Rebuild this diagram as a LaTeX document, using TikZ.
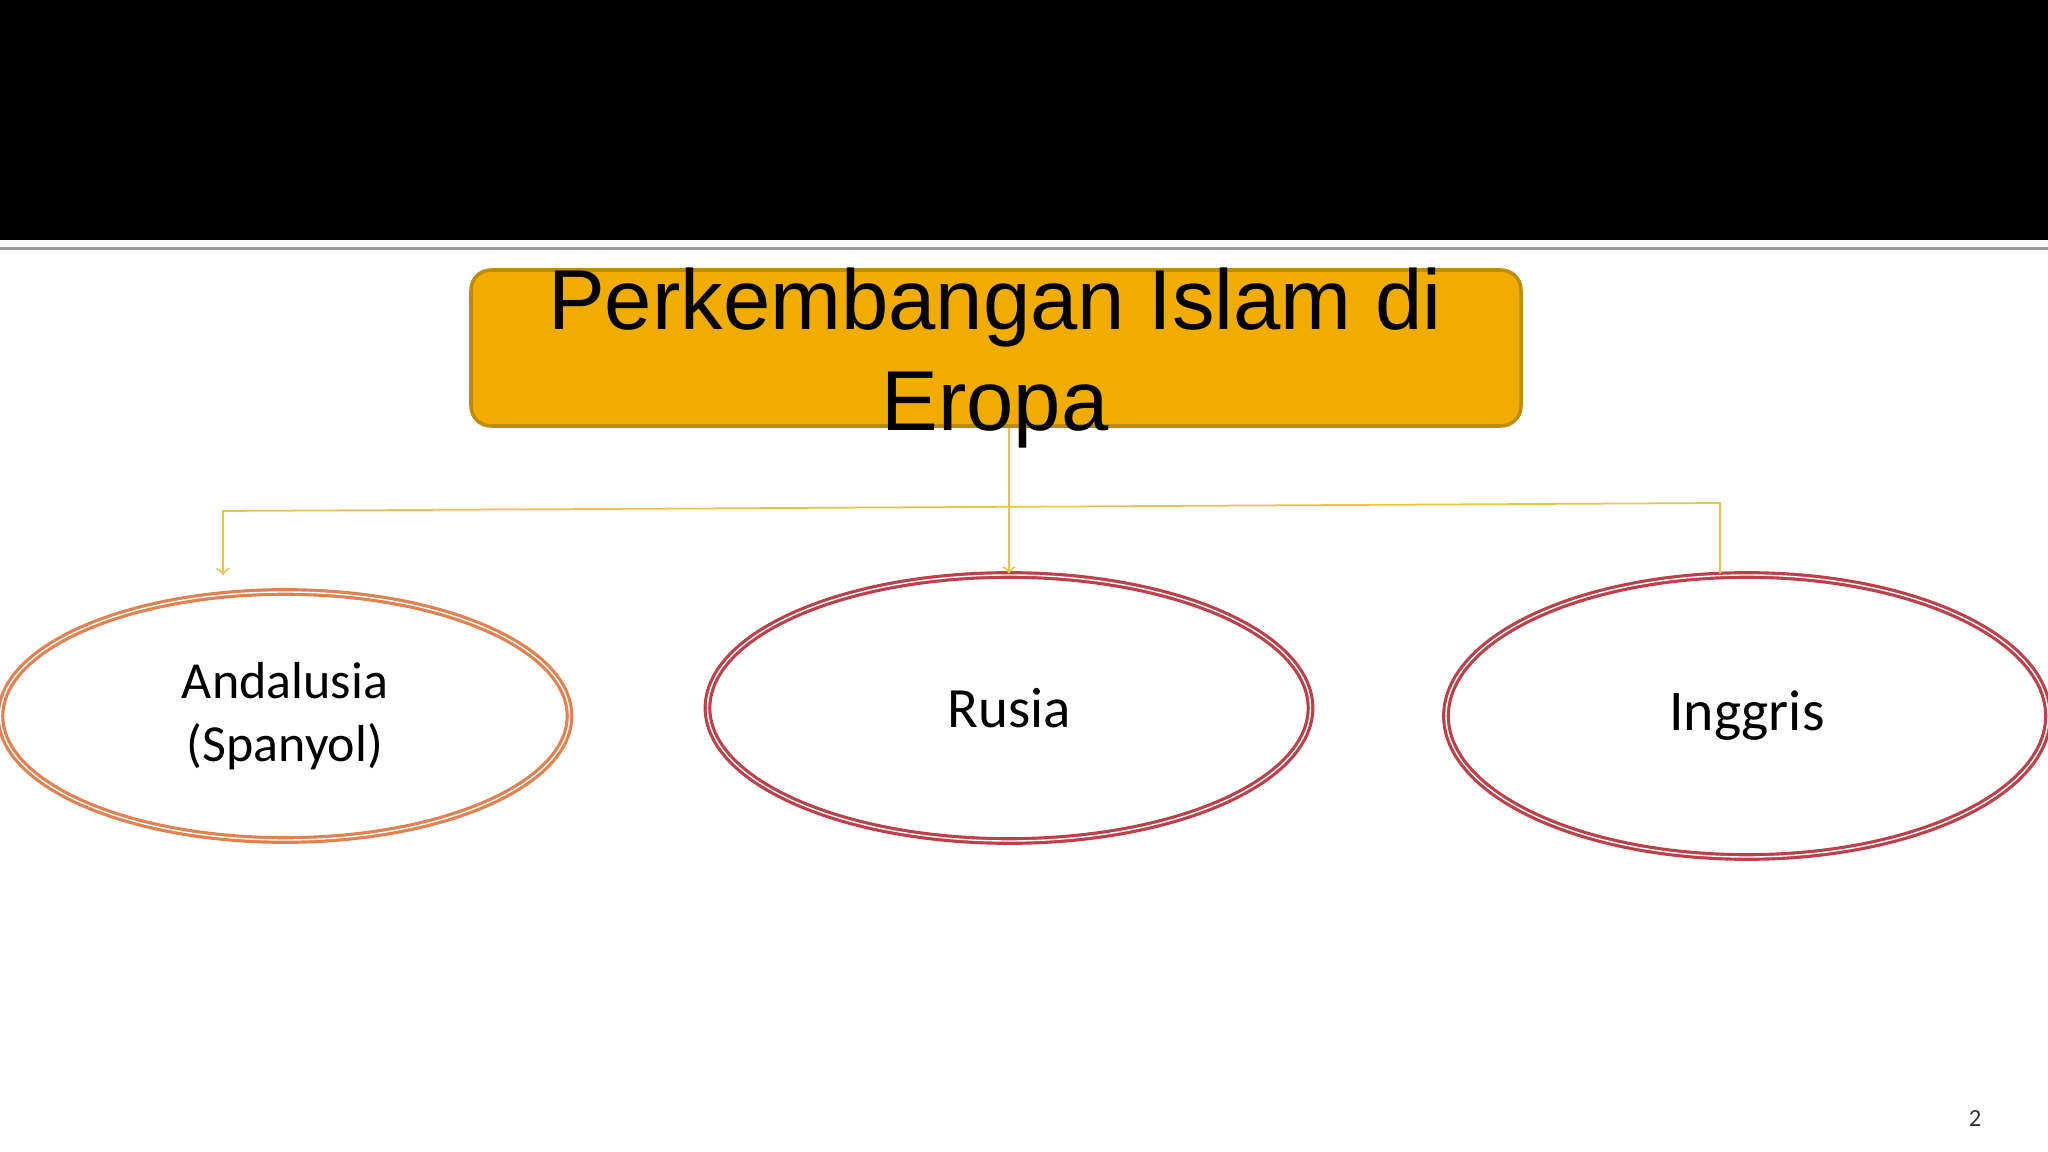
\documentclass[tikz,border=0pt]{standalone}
\usepackage{fontspec}
\setmainfont{Carlito}
\newfontfamily\titlefont{Liberation Sans}
\usetikzlibrary{shapes.geometric, arrows, calc, positioning}
\definecolor{boxgold}{RGB}{240,173,0}
\definecolor{boxedge}{RGB}{190,140,10}
\definecolor{linkgold}{RGB}{242,192,70}
\definecolor{ringorange}{RGB}{228,128,78}
\definecolor{ringred}{RGB}{192,62,72}
\tikzstyle{titlebox} = [rectangle, rounded corners=0.2cm, minimum width=10.5cm,
	minimum height=1.56cm, draw=boxedge, line width=1pt, fill=boxgold]
\tikzstyle{titleline} = [anchor=base, inner sep=0pt, font=\titlefont\fontsize{24.2}{29}\selectfont]
\tikzstyle{ring} = [ellipse, align=center, inner sep=0pt, double=white,
	double distance=0.4pt, line width=0.9pt]
\tikzstyle{link} = [draw=linkgold, line width=0.5pt]
\tikzstyle{arrow} = [->, >=to]

\begin{document}
\begin{tikzpicture}
	% set up slide
	\useasboundingbox (0,0) rectangle (20.48,-11.52);
	\fill [black] (0,0) rectangle (20.48,-2.40);
	\fill [black!40] (0,-2.47) rectangle (20.48,-2.50);

	% set up title
	\node (title) [titlebox] at (9.96,-3.48) {};
	\node (titletop) [titleline] at (9.95,-3.30) {Perkembangan Islam di};
	\node (titlebot) [titleline] at (9.95,-4.31) {Eropa};

	% set up nodes
	\node (andalusia) [ring, draw=ringorange, minimum width=5.69cm, minimum height=2.48cm,
		font=\fontsize{14.8}{17.8}\selectfont] at (2.85,-7.16) {Andalusia\\(Spanyol)};
	\node (rusia) [ring, draw=ringred, minimum width=6.03cm, minimum height=2.66cm,
		font=\fontsize{16.2}{19}\selectfont] at (10.09,-7.08) {Rusia};
	\node (inggris) [ring, draw=ringred, minimum width=6.02cm, minimum height=2.82cm,
		font=\fontsize{16.4}{19}\selectfont] at (17.47,-7.16) {Inggris};

	% set up connectors
	\coordinate (hl) at (2.23,-5.11);
	\coordinate (hr) at (17.20,-5.03);
	\coordinate (aend) at (2.23,-5.75);
	\draw [link, arrow] (rusia.north |- title.south) -- (rusia.north);
	\draw [link, arrow] (inggris.north -| hr) -- (hr) -- (hl) -- (aend);

	% page number
	\node (page) [anchor=base, text=black!80, font=\fontsize{7}{8}\selectfont] at (19.75,-11.26) {2};

\end{tikzpicture}
\end{document}
